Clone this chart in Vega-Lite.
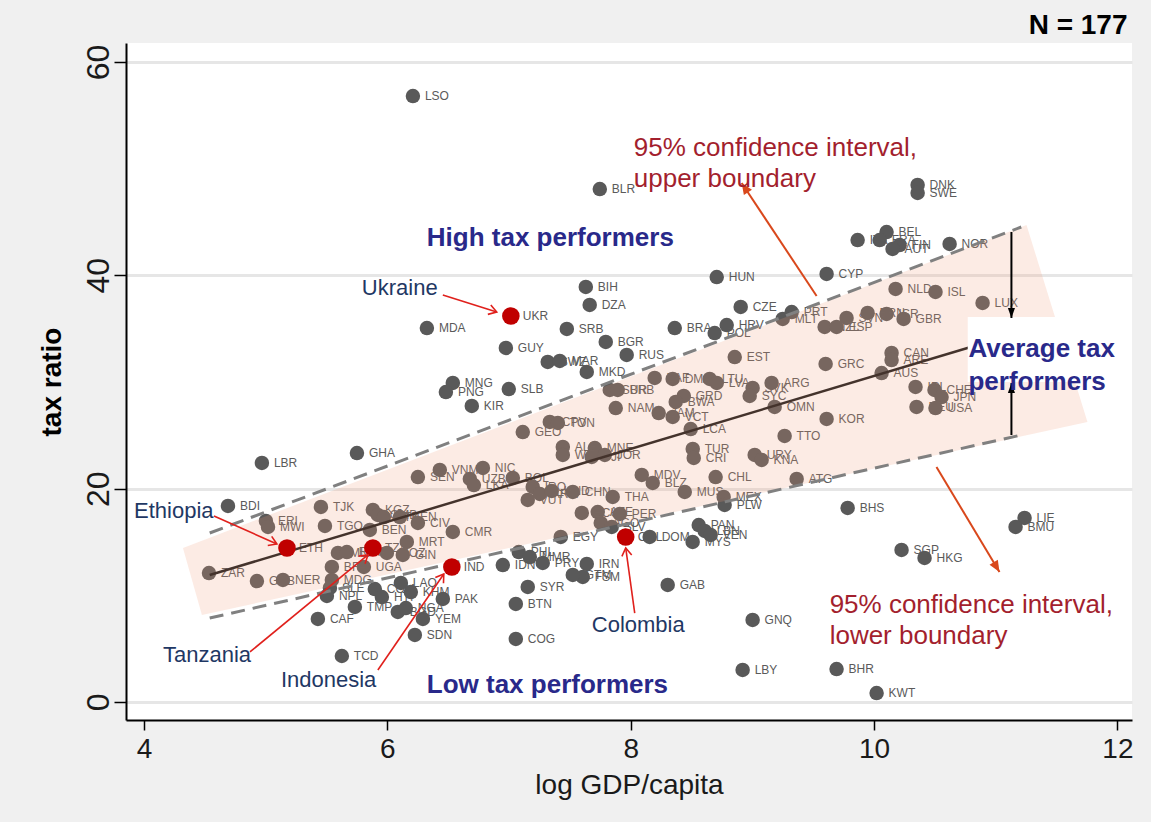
{
  "$schema": "https://vega.github.io/schema/vega-lite/v6.json",
  "width": 1006,
  "height": 677,
  "autosize": "none",
  "padding": {"left": 126, "top": 43, "right": 19, "bottom": 102},
  "background": "#f0f0f0",
  "datasets": {
    "pts": [
      {"code": "LSO", "lg": 6.21, "tax": 56.81, "focus": false},
      {"code": "BLR", "lg": 7.746, "tax": 48.09, "focus": false},
      {"code": "DNK", "lg": 10.358, "tax": 48.47, "focus": false},
      {"code": "SWE", "lg": 10.358, "tax": 47.72, "focus": false},
      {"code": "BEL", "lg": 10.103, "tax": 44.06, "focus": false},
      {"code": "ITA", "lg": 9.865, "tax": 43.31, "focus": false},
      {"code": "FRA", "lg": 10.046, "tax": 43.31, "focus": false},
      {"code": "FIN", "lg": 10.21, "tax": 42.84, "focus": false},
      {"code": "AUT", "lg": 10.152, "tax": 42.47, "focus": false},
      {"code": "NOR", "lg": 10.621, "tax": 42.94, "focus": false},
      {"code": "HUN", "lg": 8.707, "tax": 39.84, "focus": false},
      {"code": "CYP", "lg": 9.61, "tax": 40.13, "focus": false},
      {"code": "UKR", "lg": 7.015, "tax": 36.19, "focus": true},
      {"code": "BIH", "lg": 7.631, "tax": 38.91, "focus": false},
      {"code": "DZA", "lg": 7.663, "tax": 37.22, "focus": false},
      {"code": "MDA", "lg": 6.325, "tax": 35.06, "focus": false},
      {"code": "SRB", "lg": 7.475, "tax": 34.97, "focus": false},
      {"code": "BRA", "lg": 8.362, "tax": 35.06, "focus": false},
      {"code": "CZE", "lg": 8.904, "tax": 37.03, "focus": false},
      {"code": "HRV", "lg": 8.789, "tax": 35.34, "focus": false},
      {"code": "POL", "lg": 8.69, "tax": 34.59, "focus": false},
      {"code": "BGR", "lg": 7.795, "tax": 33.75, "focus": false},
      {"code": "GUY", "lg": 6.974, "tax": 33.19, "focus": false},
      {"code": "RUS", "lg": 7.967, "tax": 32.53, "focus": false},
      {"code": "SWZ", "lg": 7.318, "tax": 31.88, "focus": false},
      {"code": "MAR", "lg": 7.417, "tax": 31.97, "focus": false},
      {"code": "MKD", "lg": 7.639, "tax": 30.94, "focus": false},
      {"code": "MNG", "lg": 6.538, "tax": 29.91, "focus": false},
      {"code": "PNG", "lg": 6.481, "tax": 29.06, "focus": false},
      {"code": "SLB", "lg": 6.998, "tax": 29.34, "focus": false},
      {"code": "KIR", "lg": 6.694, "tax": 27.75, "focus": false},
      {"code": "GHA", "lg": 5.75, "tax": 23.34, "focus": false},
      {"code": "LBR", "lg": 4.969, "tax": 22.41, "focus": false},
      {"code": "BDI", "lg": 4.69, "tax": 18.38, "focus": false},
      {"code": "ERI", "lg": 5.002, "tax": 16.97, "focus": false},
      {"code": "MWI", "lg": 5.019, "tax": 16.41, "focus": false},
      {"code": "TJK", "lg": 5.454, "tax": 18.28, "focus": false},
      {"code": "TGO", "lg": 5.487, "tax": 16.5, "focus": false},
      {"code": "KGZ", "lg": 5.881, "tax": 18.0, "focus": false},
      {"code": "GMB", "lg": 5.922, "tax": 17.53, "focus": false},
      {"code": "STP", "lg": 5.971, "tax": 17.34, "focus": false},
      {"code": "KEN", "lg": 6.103, "tax": 17.34, "focus": false},
      {"code": "CIV", "lg": 6.251, "tax": 16.78, "focus": false},
      {"code": "BEN", "lg": 5.856, "tax": 16.13, "focus": false},
      {"code": "MRT", "lg": 6.16, "tax": 15.0, "focus": false},
      {"code": "TZA", "lg": 5.881, "tax": 14.44, "focus": true},
      {"code": "MOZ", "lg": 5.996, "tax": 13.97, "focus": false},
      {"code": "GIN", "lg": 6.127, "tax": 13.78, "focus": false},
      {"code": "UGA", "lg": 5.807, "tax": 12.66, "focus": false},
      {"code": "ETH", "lg": 5.175, "tax": 14.44, "focus": true},
      {"code": "MLI", "lg": 5.594, "tax": 13.97, "focus": false},
      {"code": "RWA", "lg": 5.667, "tax": 14.06, "focus": false},
      {"code": "ZAR", "lg": 4.534, "tax": 12.09, "focus": false},
      {"code": "GNB", "lg": 4.928, "tax": 11.34, "focus": false},
      {"code": "NER", "lg": 5.142, "tax": 11.44, "focus": false},
      {"code": "BFA", "lg": 5.544, "tax": 12.66, "focus": false},
      {"code": "MDG", "lg": 5.544, "tax": 11.44, "focus": false},
      {"code": "SLE", "lg": 5.528, "tax": 10.69, "focus": false},
      {"code": "NPL", "lg": 5.503, "tax": 9.94, "focus": false},
      {"code": "TMP", "lg": 5.733, "tax": 8.91, "focus": false},
      {"code": "CAF", "lg": 5.429, "tax": 7.78, "focus": false},
      {"code": "COM", "lg": 5.897, "tax": 10.59, "focus": false},
      {"code": "HTI", "lg": 5.955, "tax": 9.84, "focus": false},
      {"code": "LAO", "lg": 6.111, "tax": 11.16, "focus": false},
      {"code": "KHM", "lg": 6.193, "tax": 10.31, "focus": false},
      {"code": "BGD", "lg": 6.086, "tax": 8.44, "focus": false},
      {"code": "NGA", "lg": 6.152, "tax": 8.81, "focus": false},
      {"code": "YEM", "lg": 6.292, "tax": 7.78, "focus": false},
      {"code": "SDN", "lg": 6.226, "tax": 6.28, "focus": false},
      {"code": "TCD", "lg": 5.626, "tax": 4.31, "focus": false},
      {"code": "PAK", "lg": 6.456, "tax": 9.66, "focus": false},
      {"code": "IND", "lg": 6.53, "tax": 12.66, "focus": true},
      {"code": "CMR", "lg": 6.538, "tax": 15.94, "focus": false},
      {"code": "SEN", "lg": 6.251, "tax": 21.09, "focus": false},
      {"code": "VNM", "lg": 6.431, "tax": 21.75, "focus": false},
      {"code": "NIC", "lg": 6.785, "tax": 21.94, "focus": false},
      {"code": "UZB", "lg": 6.678, "tax": 20.91, "focus": false},
      {"code": "LKA", "lg": 6.711, "tax": 20.34, "focus": false},
      {"code": "BOL", "lg": 7.031, "tax": 21.0, "focus": false},
      {"code": "IRQ", "lg": 7.195, "tax": 20.16, "focus": false},
      {"code": "GEO", "lg": 7.113, "tax": 25.31, "focus": false},
      {"code": "CPV", "lg": 7.335, "tax": 26.25, "focus": false},
      {"code": "TON", "lg": 7.401, "tax": 26.16, "focus": false},
      {"code": "ALB", "lg": 7.442, "tax": 23.91, "focus": false},
      {"code": "WSM", "lg": 7.442, "tax": 23.16, "focus": false},
      {"code": "MNE", "lg": 7.705, "tax": 23.81, "focus": false},
      {"code": "FJI", "lg": 7.68, "tax": 22.97, "focus": false},
      {"code": "JOR", "lg": 7.787, "tax": 23.16, "focus": false},
      {"code": "VUT", "lg": 7.154, "tax": 18.94, "focus": false},
      {"code": "ARM", "lg": 7.253, "tax": 19.5, "focus": false},
      {"code": "HND", "lg": 7.351, "tax": 19.78, "focus": false},
      {"code": "CHN", "lg": 7.524, "tax": 19.69, "focus": false},
      {"code": "THA", "lg": 7.852, "tax": 19.22, "focus": false},
      {"code": "ECU", "lg": 7.598, "tax": 17.72, "focus": false},
      {"code": "AZE", "lg": 7.729, "tax": 17.81, "focus": false},
      {"code": "AGO", "lg": 7.754, "tax": 16.78, "focus": false},
      {"code": "PER", "lg": 7.91, "tax": 17.63, "focus": false},
      {"code": "SLV", "lg": 7.844, "tax": 16.41, "focus": false},
      {"code": "EGY", "lg": 7.425, "tax": 15.47, "focus": false},
      {"code": "COL", "lg": 7.959, "tax": 15.47, "focus": true},
      {"code": "DOM", "lg": 8.156, "tax": 15.47, "focus": false},
      {"code": "PAN", "lg": 8.559, "tax": 16.59, "focus": false},
      {"code": "LBN", "lg": 8.608, "tax": 16.03, "focus": false},
      {"code": "VEN", "lg": 8.657, "tax": 15.66, "focus": false},
      {"code": "MYS", "lg": 8.509, "tax": 15.0, "focus": false},
      {"code": "IDN", "lg": 6.949, "tax": 12.84, "focus": false},
      {"code": "PHL", "lg": 7.08, "tax": 14.06, "focus": false},
      {"code": "MMR", "lg": 7.171, "tax": 13.59, "focus": false},
      {"code": "PRY", "lg": 7.277, "tax": 13.03, "focus": false},
      {"code": "IRN", "lg": 7.639, "tax": 12.94, "focus": false},
      {"code": "FSM", "lg": 7.606, "tax": 11.72, "focus": false},
      {"code": "GTM", "lg": 7.524, "tax": 11.91, "focus": false},
      {"code": "SYR", "lg": 7.154, "tax": 10.78, "focus": false},
      {"code": "BTN", "lg": 7.056, "tax": 9.19, "focus": false},
      {"code": "COG", "lg": 7.056, "tax": 5.91, "focus": false},
      {"code": "GAB", "lg": 8.304, "tax": 10.97, "focus": false},
      {"code": "GNQ", "lg": 9.002, "tax": 7.69, "focus": false},
      {"code": "LBY", "lg": 8.92, "tax": 3.0, "focus": false},
      {"code": "BHR", "lg": 9.692, "tax": 3.09, "focus": false},
      {"code": "KWT", "lg": 10.021, "tax": 0.84, "focus": false},
      {"code": "BHS", "lg": 9.783, "tax": 18.19, "focus": false},
      {"code": "SGP", "lg": 10.226, "tax": 14.25, "focus": false},
      {"code": "HKG", "lg": 10.415, "tax": 13.5, "focus": false},
      {"code": "LIE", "lg": 11.237, "tax": 17.25, "focus": false},
      {"code": "BMU", "lg": 11.163, "tax": 16.41, "focus": false},
      {"code": "MEX", "lg": 8.764, "tax": 19.22, "focus": false},
      {"code": "PLW", "lg": 8.772, "tax": 18.47, "focus": false},
      {"code": "MUS", "lg": 8.444, "tax": 19.69, "focus": false},
      {"code": "CHL", "lg": 8.698, "tax": 21.09, "focus": false},
      {"code": "ATG", "lg": 9.364, "tax": 20.91, "focus": false},
      {"code": "MDV", "lg": 8.091, "tax": 21.28, "focus": false},
      {"code": "BLZ", "lg": 8.181, "tax": 20.53, "focus": false},
      {"code": "TUR", "lg": 8.51, "tax": 23.72, "focus": false},
      {"code": "CRI", "lg": 8.518, "tax": 22.88, "focus": false},
      {"code": "URY", "lg": 9.019, "tax": 23.16, "focus": false},
      {"code": "KNA", "lg": 9.076, "tax": 22.69, "focus": false},
      {"code": "TTO", "lg": 9.265, "tax": 24.94, "focus": false},
      {"code": "LCA", "lg": 8.493, "tax": 25.59, "focus": false},
      {"code": "KOR", "lg": 9.61, "tax": 26.53, "focus": false},
      {"code": "OMN", "lg": 9.183, "tax": 27.66, "focus": false},
      {"code": "SVK", "lg": 9.002, "tax": 29.44, "focus": false},
      {"code": "SYC", "lg": 8.978, "tax": 28.69, "focus": false},
      {"code": "ARG", "lg": 9.158, "tax": 29.91, "focus": false},
      {"code": "LTU", "lg": 8.649, "tax": 30.28, "focus": false},
      {"code": "LVA", "lg": 8.707, "tax": 29.91, "focus": false},
      {"code": "ZAF", "lg": 8.197, "tax": 30.38, "focus": false},
      {"code": "DMA", "lg": 8.345, "tax": 30.28, "focus": false},
      {"code": "GRD", "lg": 8.436, "tax": 28.69, "focus": false},
      {"code": "BWA", "lg": 8.37, "tax": 28.13, "focus": false},
      {"code": "JAM", "lg": 8.23, "tax": 27.09, "focus": false},
      {"code": "VCT", "lg": 8.345, "tax": 26.72, "focus": false},
      {"code": "SUR", "lg": 7.828, "tax": 29.25, "focus": false},
      {"code": "BRB", "lg": 7.893, "tax": 29.25, "focus": false},
      {"code": "NAM", "lg": 7.877, "tax": 27.56, "focus": false},
      {"code": "EST", "lg": 8.855, "tax": 32.34, "focus": false},
      {"code": "MLT", "lg": 9.249, "tax": 35.91, "focus": false},
      {"code": "PRT", "lg": 9.323, "tax": 36.56, "focus": false},
      {"code": "NZL", "lg": 9.594, "tax": 35.16, "focus": false},
      {"code": "ESP", "lg": 9.692, "tax": 35.16, "focus": false},
      {"code": "SVN", "lg": 9.774, "tax": 36.0, "focus": false},
      {"code": "BRN", "lg": 9.947, "tax": 36.47, "focus": false},
      {"code": "ISR", "lg": 10.103, "tax": 36.38, "focus": false},
      {"code": "GBR", "lg": 10.243, "tax": 35.91, "focus": false},
      {"code": "NLD", "lg": 10.177, "tax": 38.72, "focus": false},
      {"code": "ISL", "lg": 10.505, "tax": 38.44, "focus": false},
      {"code": "LUX", "lg": 10.892, "tax": 37.41, "focus": false},
      {"code": "CAN", "lg": 10.144, "tax": 32.72, "focus": false},
      {"code": "ARE", "lg": 10.144, "tax": 32.06, "focus": false},
      {"code": "AUS", "lg": 10.062, "tax": 30.84, "focus": false},
      {"code": "GRC", "lg": 9.602, "tax": 31.69, "focus": false},
      {"code": "IRL", "lg": 10.341, "tax": 29.53, "focus": false},
      {"code": "CHE", "lg": 10.497, "tax": 29.25, "focus": false},
      {"code": "JPN", "lg": 10.555, "tax": 28.59, "focus": false},
      {"code": "USA", "lg": 10.505, "tax": 27.56, "focus": false},
      {"code": "DEU", "lg": 10.349, "tax": 27.66, "focus": false}
    ],
    "fit": [
      {"lg": 4.54, "tax": 11.9},
      {"lg": 11.21, "tax": 34.7}
    ],
    "ci": [
      {"side": "upper", "lg": 4.54, "tax": 15.84},
      {"side": "upper", "lg": 11.21, "tax": 44.53},
      {"side": "lower", "lg": 4.54, "tax": 7.87},
      {"side": "lower", "lg": 11.21, "tax": 25.03}
    ],
    "band": [
      {"lg": 4.32, "top": 14.44, "bot": 14.44},
      {"lg": 4.476, "top": 15.12, "bot": 8.16},
      {"lg": 11.253, "top": 44.72, "bot": 25.0},
      {"lg": 11.754, "top": 26.25, "bot": 26.25}
    ],
    "box": [
      {"x": 10.77, "x2": 12.0, "y": 30.0, "y2": 36.1}
    ],
    "nameArrows": [
      {"who": "Ukraine", "x": 6.456, "y": 38.16, "x2": 6.899, "y2": 36.56},
      {"who": "Ethiopia", "x": 4.575, "y": 17.44, "x2": 5.092, "y2": 14.81},
      {"who": "Tanzania", "x": 4.871, "y": 4.69, "x2": 5.84, "y2": 13.78},
      {"who": "Indonesia", "x": 5.922, "y": 3.0, "x2": 6.464, "y2": 12.0},
      {"who": "Colombia", "x": 8.033, "y": 8.34, "x2": 7.959, "y2": 14.44}
    ],
    "ciArrows": [
      {"who": "upper", "x": 9.528, "y": 38.06, "x2": 8.912, "y2": 48.66},
      {"who": "lower", "x": 10.513, "y": 22.03, "x2": 11.031, "y2": 12.19}
    ],
    "spanArrows": [
      {"who": "down", "x": 11.129, "y": 44.06, "x2": 11.129, "y2": 36.0},
      {"who": "up", "x": 11.129, "y": 25.03, "x2": 11.129, "y2": 29.9}
    ],
    "bigNotes": [
      {"t": "High tax performers", "x": 6.324, "y": 43.5},
      {"t": "Low tax performers", "x": 6.324, "y": 1.6},
      {"t": "Average tax\nperformers", "x": 10.776, "y": 33.05}
    ],
    "ciNotes": [
      {"t": "95% confidence interval,\nupper boundary", "x": 8.025, "y": 51.98},
      {"t": "95% confidence interval,\nlower boundary", "x": 9.635, "y": 9.09}
    ],
    "nameNotes": [
      {"t": "Ukraine", "x": 5.79, "y": 38.8},
      {"t": "Ethiopia", "x": 3.918, "y": 17.9},
      {"t": "Tanzania", "x": 4.156, "y": 4.4},
      {"t": "Indonesia", "x": 5.125, "y": 2.06},
      {"t": "Colombia", "x": 7.68, "y": 7.22}
    ],
    "count": [
      {"t": "N = 177", "x": 12.083, "y": 63.4}
    ]
  },
  "layer": [
    {
      "data": {"name": "pts"},
      "transform": [{"filter": "!datum.focus"}],
      "mark": {"type": "point", "filled": true, "color": "#595959", "opacity": 1, "size": 210},
      "encoding": {
        "x": {"field": "lg", "type": "quantitative", "title": "log GDP/capita",
              "scale": {"domain": [3.852, 12.12], "nice": false, "zero": false},
              "axis": {"values": [4, 6, 8, 10, 12], "format": "d", "grid": false}},
        "y": {"field": "tax", "type": "quantitative", "title": "tax ratio",
              "scale": {"domain": [-1.69, 61.78], "nice": false, "zero": false},
              "axis": {"values": [0, 20, 40, 60], "format": "d", "grid": true}}
      }
    },
    {
      "data": {"name": "pts"},
      "mark": {"type": "text", "align": "left", "baseline": "middle", "dx": 12, "fontSize": 12, "color": "#5a5a5a"},
      "encoding": {
        "x": {"field": "lg", "type": "quantitative", "title": "log GDP/capita"},
        "y": {"field": "tax", "type": "quantitative", "title": "tax ratio"},
        "text": {"field": "code", "type": "nominal"}
      }
    },
    {
      "data": {"name": "fit"},
      "mark": {"type": "line", "color": "#1a1a1a", "strokeWidth": 2.5},
      "encoding": {
        "x": {"field": "lg", "type": "quantitative", "title": "log GDP/capita"},
        "y": {"field": "tax", "type": "quantitative", "title": "tax ratio"}
      }
    },
    {
      "data": {"name": "band"},
      "mark": {"type": "area", "color": "#f29a7a", "opacity": 0.2},
      "encoding": {
        "x": {"field": "lg", "type": "quantitative", "title": "log GDP/capita"},
        "y": {"field": "top", "type": "quantitative", "title": "tax ratio"},
        "y2": {"field": "bot"}
      }
    },
    {
      "data": {"name": "ci"},
      "mark": {"type": "line", "color": "#808080", "strokeWidth": 3, "strokeDash": [14, 8]},
      "encoding": {
        "x": {"field": "lg", "type": "quantitative", "title": "log GDP/capita"},
        "y": {"field": "tax", "type": "quantitative", "title": "tax ratio"},
        "detail": {"field": "side", "type": "nominal"}
      }
    },
    {
      "data": {"name": "pts"},
      "transform": [{"filter": "datum.focus"}],
      "mark": {"type": "point", "filled": true, "color": "#c00000", "opacity": 1, "size": 310},
      "encoding": {
        "x": {"field": "lg", "type": "quantitative", "title": "log GDP/capita"},
        "y": {"field": "tax", "type": "quantitative", "title": "tax ratio"}
      }
    },
    {
      "data": {"name": "box"},
      "mark": {"type": "rect", "color": "white"},
      "encoding": {
        "x": {"field": "x", "type": "quantitative", "title": "log GDP/capita"},
        "x2": {"field": "x2"},
        "y": {"field": "y", "type": "quantitative", "title": "tax ratio"},
        "y2": {"field": "y2"}
      }
    },
    {
      "data": {"name": "nameArrows"},
      "mark": {"type": "rule", "color": "#e0201c", "strokeWidth": 1.6},
      "encoding": {
        "x": {"field": "x", "type": "quantitative", "title": "log GDP/capita"},
        "y": {"field": "y", "type": "quantitative", "title": "tax ratio"},
        "x2": {"field": "x2"},
        "y2": {"field": "y2"}
      }
    },
    {
      "data": {"name": "ciArrows"},
      "mark": {"type": "rule", "color": "#d9481c", "strokeWidth": 2},
      "encoding": {
        "x": {"field": "x", "type": "quantitative", "title": "log GDP/capita"},
        "y": {"field": "y", "type": "quantitative", "title": "tax ratio"},
        "x2": {"field": "x2"},
        "y2": {"field": "y2"}
      }
    },
    {
      "data": {"name": "spanArrows"},
      "mark": {"type": "rule", "color": "#000000", "strokeWidth": 2},
      "encoding": {
        "x": {"field": "x", "type": "quantitative", "title": "log GDP/capita"},
        "y": {"field": "y", "type": "quantitative", "title": "tax ratio"},
        "x2": {"field": "x2"},
        "y2": {"field": "y2"}
      }
    },
    {
      "data": {"name": "nameArrows"},
      "transform": [{"filter": "datum.who === 'Ukraine'"}],
      "mark": {"type": "point", "shape": "M-0.7,1.1L0,0L0.7,1.1", "filled": false, "stroke": "#e0201c", "strokeWidth": 1.6, "opacity": 1, "size": 200, "angle": 107.5},
      "encoding": {"x": {"field": "x2", "type": "quantitative"}, "y": {"field": "y2", "type": "quantitative"}}
    },
    {
      "data": {"name": "nameArrows"},
      "transform": [{"filter": "datum.who === 'Ethiopia'"}],
      "mark": {"type": "point", "shape": "M-0.7,1.1L0,0L0.7,1.1", "filled": false, "stroke": "#e0201c", "strokeWidth": 1.6, "opacity": 1, "size": 200, "angle": 113.3},
      "encoding": {"x": {"field": "x2", "type": "quantitative"}, "y": {"field": "y2", "type": "quantitative"}}
    },
    {
      "data": {"name": "nameArrows"},
      "transform": [{"filter": "datum.who === 'Tanzania'"}],
      "mark": {"type": "point", "shape": "M-0.7,1.1L0,0L0.7,1.1", "filled": false, "stroke": "#e0201c", "strokeWidth": 1.6, "opacity": 1, "size": 200, "angle": 50.5},
      "encoding": {"x": {"field": "x2", "type": "quantitative"}, "y": {"field": "y2", "type": "quantitative"}}
    },
    {
      "data": {"name": "nameArrows"},
      "transform": [{"filter": "datum.who === 'Indonesia'"}],
      "mark": {"type": "point", "shape": "M-0.7,1.1L0,0L0.7,1.1", "filled": false, "stroke": "#e0201c", "strokeWidth": 1.6, "opacity": 1, "size": 200, "angle": 34.6},
      "encoding": {"x": {"field": "x2", "type": "quantitative"}, "y": {"field": "y2", "type": "quantitative"}}
    },
    {
      "data": {"name": "nameArrows"},
      "transform": [{"filter": "datum.who === 'Colombia'"}],
      "mark": {"type": "point", "shape": "M-0.7,1.1L0,0L0.7,1.1", "filled": false, "stroke": "#e0201c", "strokeWidth": 1.6, "opacity": 1, "size": 200, "angle": 352},
      "encoding": {"x": {"field": "x2", "type": "quantitative"}, "y": {"field": "y2", "type": "quantitative"}}
    },
    {
      "data": {"name": "ciArrows"},
      "transform": [{"filter": "datum.who === 'upper'"}],
      "mark": {"type": "point", "shape": "M0,0L-0.6,1.4L0.6,1.4Z", "filled": true, "color": "#d9481c", "opacity": 1, "size": 260, "angle": 326.4},
      "encoding": {"x": {"field": "x2", "type": "quantitative"}, "y": {"field": "y2", "type": "quantitative"}}
    },
    {
      "data": {"name": "ciArrows"},
      "transform": [{"filter": "datum.who === 'lower'"}],
      "mark": {"type": "point", "shape": "M0,0L-0.6,1.4L0.6,1.4Z", "filled": true, "color": "#d9481c", "opacity": 1, "size": 260, "angle": 149},
      "encoding": {"x": {"field": "x2", "type": "quantitative"}, "y": {"field": "y2", "type": "quantitative"}}
    },
    {
      "data": {"name": "spanArrows"},
      "transform": [{"filter": "datum.who === 'down'"}],
      "mark": {"type": "point", "shape": "M0,0L-0.5,1.4L0.5,1.4Z", "filled": true, "color": "#000000", "opacity": 1, "size": 200, "angle": 180},
      "encoding": {"x": {"field": "x2", "type": "quantitative"}, "y": {"field": "y2", "type": "quantitative"}}
    },
    {
      "data": {"name": "spanArrows"},
      "transform": [{"filter": "datum.who === 'up'"}],
      "mark": {"type": "point", "shape": "M0,0L-0.5,1.4L0.5,1.4Z", "filled": true, "color": "#000000", "opacity": 1, "size": 200, "angle": 0},
      "encoding": {"x": {"field": "x2", "type": "quantitative"}, "y": {"field": "y2", "type": "quantitative"}}
    },
    {
      "data": {"name": "bigNotes"},
      "mark": {"type": "text", "align": "left", "baseline": "middle", "fontSize": 26, "fontWeight": "bold", "color": "#29298a", "lineBreak": "\n", "lineHeight": 33},
      "encoding": {
        "x": {"field": "x", "type": "quantitative"},
        "y": {"field": "y", "type": "quantitative"},
        "text": {"field": "t", "type": "nominal"}
      }
    },
    {
      "data": {"name": "ciNotes"},
      "mark": {"type": "text", "align": "left", "baseline": "middle", "fontSize": 26, "color": "#a31f2e", "lineBreak": "\n", "lineHeight": 31},
      "encoding": {
        "x": {"field": "x", "type": "quantitative"},
        "y": {"field": "y", "type": "quantitative"},
        "text": {"field": "t", "type": "nominal"}
      }
    },
    {
      "data": {"name": "nameNotes"},
      "mark": {"type": "text", "align": "left", "baseline": "middle", "fontSize": 22, "color": "#1f3864"},
      "encoding": {
        "x": {"field": "x", "type": "quantitative"},
        "y": {"field": "y", "type": "quantitative"},
        "text": {"field": "t", "type": "nominal"}
      }
    },
    {
      "data": {"name": "count"},
      "mark": {"type": "text", "align": "right", "baseline": "middle", "fontSize": 28, "fontWeight": "bold", "color": "#000000"},
      "encoding": {
        "x": {"field": "x", "type": "quantitative"},
        "y": {"field": "y", "type": "quantitative"},
        "text": {"field": "t", "type": "nominal"}
      }
    }
  ],
  "config": {
    "font": "Liberation Sans",
    "view": {"fill": "white", "stroke": null},
    "axis": {
      "domainColor": "#000000",
      "domainWidth": 2,
      "tickColor": "#000000",
      "tickWidth": 1.5,
      "labelColor": "#1a1a1a",
      "titleColor": "#000000",
      "labelFont": "Liberation Sans",
      "titleFont": "Liberation Sans"
    },
    "axisX": {
      "tickSize": 10,
      "labelFontSize": 28,
      "labelPadding": 5,
      "titleFontSize": 28,
      "titleFontWeight": "normal",
      "titlePadding": 8,
      "titleColor": "#1a1a1a"
    },
    "axisY": {
      "tickSize": 12,
      "labelFontSize": 32,
      "labelAngle": -90,
      "labelAlign": "center",
      "labelBaseline": "alphabetic",
      "labelPadding": 6,
      "titleFontSize": 28,
      "titleFontWeight": "bold",
      "titlePadding": 16,
      "gridColor": "#e6e6e6",
      "gridWidth": 3
    }
  }
}
